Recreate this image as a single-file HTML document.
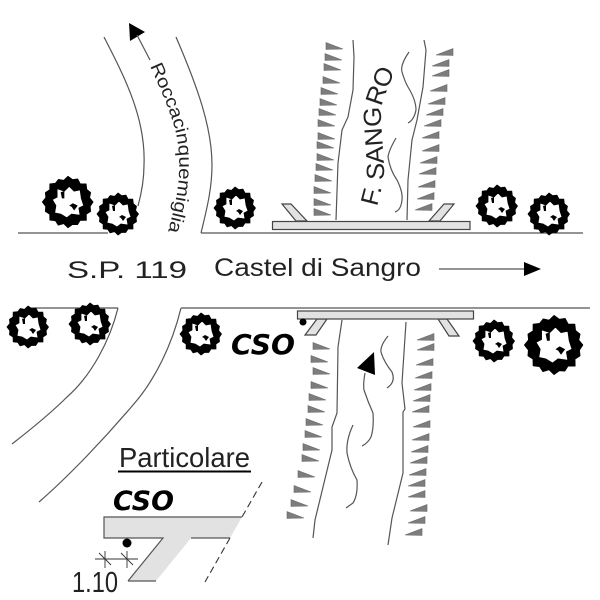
<!DOCTYPE html>
<html><head><meta charset="utf-8"><style>
html,body{margin:0;padding:0;background:#fff}
svg{display:block}
text{font-family:"Liberation Sans",sans-serif;fill:#222}
.l{fill:none;stroke:#555;stroke-width:1.2}
.t{fill:#7d7d7d;stroke:#666;stroke-width:.6}
.b{fill:#e2e2e2;stroke:#444;stroke-width:1.2}
.c{font-family:"DejaVu Sans",sans-serif;font-weight:bold;font-style:italic;fill:#000}
</style></head><body>
<svg width="600" height="600" viewBox="0 0 600 600" xmlns="http://www.w3.org/2000/svg">
<defs>
<g id="bush">
<path fill="#000" stroke="#000" stroke-width=".8" stroke-linejoin="round" fill-rule="evenodd" d="M20.500,0 L18.100,3.600 L18.500,7.700 L14.900,10 L15,15 L10,14.900 L7.700,18.500 L3.700,18.300 L0,21 L-3.500,17.600 L-7.900,18.900 L-10.300,15.300 L-14.800,14.800 L-14.900,10 L-18.500,7.700 L-18.200,3.600 L-21,0 L-18.100,-3.600 L-18.500,-7.700 L-14.900,-10 L-14.800,-14.800 L-10.300,-15.300 L-7.700,-18.500 L-3.500,-17.600 L0,-21 L3.700,-18.300 L7.900,-18.900 L10,-14.900 L14.800,-14.800 L15.300,-10.300 L18.500,-7.700 L17.600,-3.500 Z M11,-3 L13,3 L9,5 L10,11 L3,10 L-1,13 L-6,10 L-11,9 L-10,3 L-13,-2 L-9,-4 L-9,-11 L-3,-9 L1,-13 L5,-9 L10,-10 Z"/>
<path d="M1,3 L4,1 L8,3 L5,7 L3,4 Z M-6,-8 L-3,-9 L-3,-3 L-5,-3 Z" fill="#000"/>
</g>
<g id="tr"><polygon class="t" points="0,-3.500 0,3.500 17,3"/></g>
<g id="tl"><polygon class="t" points="0,-3.500 0,3.500 -17,3"/></g>
<path id="rp" d="M150,66 C158,84 171,112 176,133 C180,152 180,172 177,192 C175,206 171,220 167,236"/>
<path id="sp" d="M377,207 C381,192 384,180 384,170 C384,155 381,130 381,112 C382,100 388,90 394,72"/>
</defs>

<!-- roads -->
<path class="l" d="M104,37 C124,76 146,118 144,165 C144,182 141,195 138,206"/>
<path class="l" d="M176,37 C198,88 212,128 212,165 C212,190 206,212 201,233"/>
<path class="l" d="M18,233 H108 M201,233 H272 M272,233 H583"/>
<path class="l" d="M30,308 H118 M181,308 H590"/>
<path class="l" d="M118,308 C110,340 92,375 67,397 C50,414 30,430 12,444"/>
<path class="l" d="M181,308 C172,345 155,380 133,405 C105,438 70,475 39,502"/>

<!-- bridges -->
<polygon class="b" points="282,204 291,204 307,221 296,221"/>
<polygon class="b" points="454,204 444,204 429,221 440,221"/>
<rect class="b" x="272.500" y="221.500" width="197.500" height="8"/>
<polygon class="b" points="317,319 327,319 316,335 305,335"/>
<polygon class="b" points="438,319 447,319 459,336 449,336"/>
<rect class="b" x="297.500" y="311" width="176" height="8"/>
<circle cx="303" cy="322" r="3.500" fill="#000"/>

<!-- upper river -->
<path class="l" d="M353,40 L354,57 L353,90 L348,117 L342,130 L338,163 L336,220"/>
<path class="l" d="M424,40 L426,50 L423,87 L417,120 L412,140 L408,180 L407,220"/>
<path class="l" d="M409,52 Q400,65 402,72 Q405,82 408,87 Q416,100 416,110 Q414,120 408,123"/>
<path class="l" d="M396,138 Q389,150 388,157 Q390,170 397,180 Q403,192 402,200 Q401,210 395,212"/>

<!-- lower river -->
<path class="l" d="M342,320 L338,347 L337,413 L332,427 L332,450 L315,520 L313,538"/>
<path class="l" d="M406,322 L402,383 L405,409 L403,412 L403,473 L392,518 L388,545"/>
<path class="l" d="M388,336 Q380,346 381,352 Q384,362 392,372 Q396,382 387,388"/>
<path class="l" d="M365,373 Q363,384 364,390 Q368,402 373,413 Q374,428 371,437 Q368,443 362,446"/>
<path class="l" d="M353,425 Q346,440 347,453 Q350,468 357,480 Q358,495 353,503 L346,508"/>
<polygon points="374,352 357,368 375,375" fill="#000"/>

<!-- upper left bank -->
<use href="#tr" x="326" y="46"/><use href="#tr" x="325" y="57"/><use href="#tr" x="324" y="67"/>
<use href="#tr" x="323" y="80"/><use href="#tr" x="321" y="91"/><use href="#tr" x="320" y="102"/>
<use href="#tr" x="319" y="112"/><use href="#tr" x="318" y="123"/><use href="#tr" x="318" y="136"/>
<use href="#tr" x="317" y="145"/><use href="#tr" x="317" y="157"/><use href="#tr" x="316" y="167"/>
<use href="#tr" x="315" y="178"/><use href="#tr" x="314" y="190"/><use href="#tr" x="314" y="202"/>
<use href="#tr" x="314" y="212"/>
<!-- upper right bank -->
<use href="#tl" x="453" y="52"/><use href="#tl" x="449" y="63"/><use href="#tl" x="449" y="73"/>
<use href="#tl" x="447" y="88"/><use href="#tl" x="445" y="101"/><use href="#tl" x="443" y="112"/>
<use href="#tl" x="441" y="123"/><use href="#tl" x="439" y="135"/><use href="#tl" x="439" y="148"/>
<use href="#tl" x="437" y="160"/><use href="#tl" x="436" y="171"/><use href="#tl" x="435" y="184"/>
<use href="#tl" x="434" y="196"/><use href="#tl" x="432" y="207"/>
<!-- lower left bank -->
<use href="#tr" x="313" y="346"/><use href="#tr" x="311" y="359"/><use href="#tr" x="313" y="371"/>
<use href="#tr" x="311" y="385"/><use href="#tr" x="309" y="397"/><use href="#tr" x="308" y="409"/>
<use href="#tr" x="306" y="422"/><use href="#tr" x="305" y="434"/><use href="#tr" x="303" y="447"/>
<use href="#tr" x="302" y="458"/><use href="#tr" x="298" y="474"/><use href="#tr" x="294" y="489"/>
<use href="#tr" x="291" y="503"/><use href="#tr" x="287" y="515"/>
<!-- lower right bank -->
<use href="#tl" x="434" y="337"/><use href="#tl" x="434" y="347"/><use href="#tl" x="433" y="362"/>
<use href="#tl" x="432" y="375"/><use href="#tl" x="431" y="387"/><use href="#tl" x="430" y="398"/>
<use href="#tl" x="429" y="409"/><use href="#tl" x="430" y="424"/><use href="#tl" x="429" y="437"/>
<use href="#tl" x="428" y="449"/><use href="#tl" x="427" y="460"/><use href="#tl" x="426" y="472"/>
<use href="#tl" x="425" y="483"/><use href="#tl" x="425" y="494"/><use href="#tl" x="427" y="508"/>
<use href="#tl" x="425" y="520"/><use href="#tl" x="422" y="532"/>

<!-- bushes -->
<use href="#bush" transform="translate(68,202) scale(1.22)"/>
<use href="#bush" transform="translate(118,214)"/>
<use href="#bush" transform="translate(235,208)"/>
<use href="#bush" transform="translate(497,206)"/>
<use href="#bush" transform="translate(549,214)"/>
<use href="#bush" transform="translate(28,327)"/>
<use href="#bush" transform="translate(90,324)"/>
<use href="#bush" transform="translate(201,334)"/>
<use href="#bush" transform="translate(494,341)"/>
<use href="#bush" transform="translate(554,345) scale(1.4)"/>

<!-- arrows -->
<polygon points="129,23 145,32 130,41" fill="#000"/>
<path class="l" d="M137,35 L150,60"/>
<path class="l" d="M439,269 H525"/>
<polygon points="524,262 541,269 524,276" fill="#000"/>

<!-- labels -->
<text x="67" y="278" font-size="24" textLength="120" lengthAdjust="spacingAndGlyphs">S.P. 119</text>
<text x="214" y="276" font-size="25" textLength="207" lengthAdjust="spacingAndGlyphs">Castel di Sangro</text>
<text font-size="18"><textPath href="#rp" textLength="172" lengthAdjust="spacingAndGlyphs">Roccacinquemiglia</textPath></text>
<text font-size="25"><textPath href="#sp" textLength="140" lengthAdjust="spacingAndGlyphs">F. SANGRO</textPath></text>
<text class="c" x="231" y="354" font-size="28" textLength="64" lengthAdjust="spacingAndGlyphs">CSO</text>
<text class="c" x="113" y="510" font-size="27" textLength="61" lengthAdjust="spacingAndGlyphs">CSO</text>
<text x="119" y="467" font-size="28" textLength="131" lengthAdjust="spacingAndGlyphs">Particolare</text>
<rect x="118" y="470.500" width="133" height="2" fill="#000"/>

<!-- detail -->
<polygon points="104,517 242,517 230,538 191,538 156,581 128,581 163,538 104,538" fill="#e2e2e2"/>
<path d="M128,581 H156 M242,517 H104 V538 H163 L128,581 M191,538 H230" fill="none" stroke="#555" stroke-width="1.2"/>
<circle cx="127" cy="543" r="4.500" fill="#000"/>
<path d="M262,482 L242,517 M230,538 L205,582" fill="none" stroke="#333" stroke-width="1.1" stroke-dasharray="7 4"/>
<path d="M95,559 H138 M105,551 V568 M127,551 V568 M99,553 L111,565 M121,553 L133,565" fill="none" stroke="#333" stroke-width=".9"/>
<text x="72" y="592" font-size="29" textLength="46" lengthAdjust="spacingAndGlyphs">1.10</text>
</svg>
</body></html>
